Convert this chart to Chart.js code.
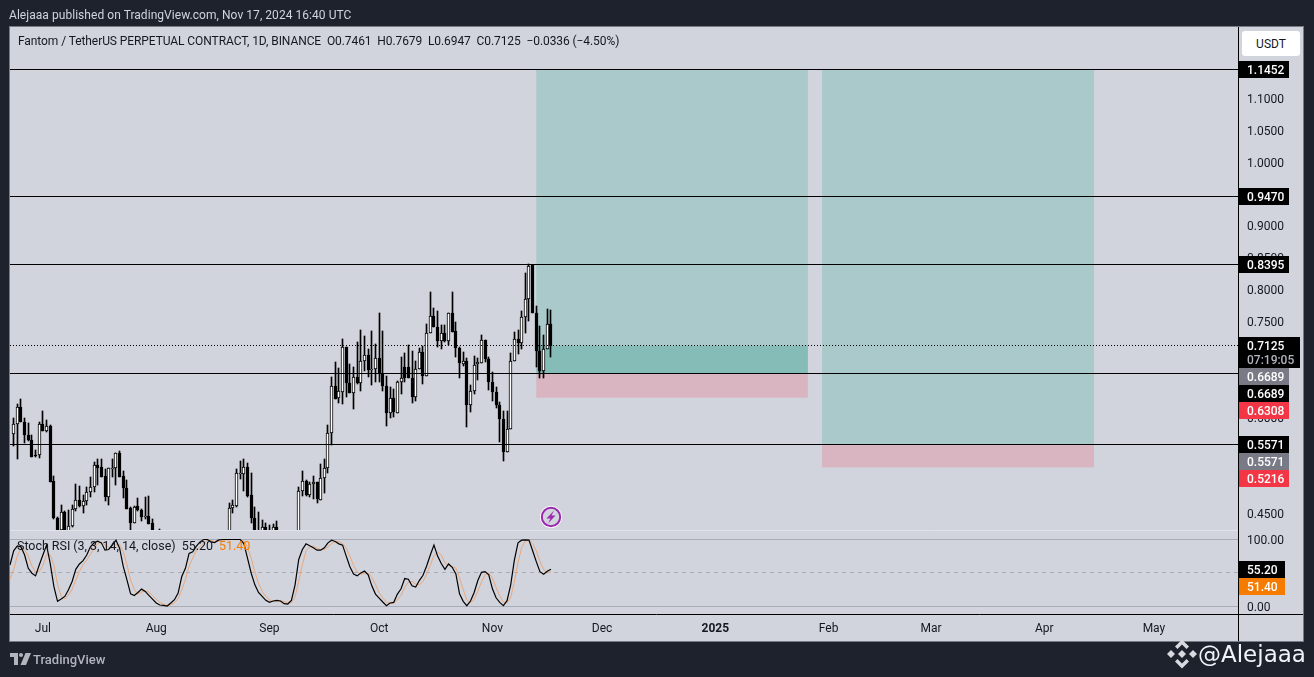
<!DOCTYPE html>
<html>
<head>
<meta charset="utf-8">
<title>FTMUSDT.P</title>
<script src="https://cdn.jsdelivr.net/npm/chart.js@4"></script>
<style>
  html, body { margin: 0; padding: 0; background: #1e222d; overflow: hidden; }
  body { width: 1314px; height: 677px; position: relative; font-family: Roboto, sans-serif; }
  #panel { position: absolute; left: 10px; top: 27px; width: 1293px; height: 614px; background: #d1d4dc; border: 1px solid #787b86; box-sizing: content-box; margin: -1px 0 0 -1px; }
  #myChart { position: absolute; left: 0; top: 0; }
  .txt { position: absolute; white-space: pre; font-size: 12px; line-height: 14px; color: #131722; }
  #published { left: 9px; top: 8px; color: #d1d4dc; letter-spacing: 0.05px; }
  #symbol { left: 18px; top: 34px; letter-spacing: -0.08px; }
  #stoch { left: 17px; top: 539px; font-size: 12.5px; letter-spacing: -0.03px; }
  #stochD { color: #f57c00; }
  #unit { left: 1242px; top: 31px; width: 58px; height: 25px; line-height: 27px; background: #fff; border-radius: 3px; text-align: center; }
  #brand { left: 33px; top: 652px; color: #b2b5be; font-size: 13px; line-height: 16px; font-weight: 500; }
  #handle { left: 1198px; top: 638px; color: #f0f3fa; font-family: "DejaVu Sans", sans-serif; font-size: 23px; line-height: 32px; }
  svg { position: absolute; }
</style>
</head>
<body>
<div id="panel"></div>
<canvas id="myChart" width="1314" height="677"></canvas>
<div class="txt" id="published">Alejaaa published on TradingView.com, Nov 17, 2024 16:40 UTC</div>
<div class="txt" id="symbol">Fantom / TetherUS PERPETUAL CONTRACT, 1D, BINANCE  O0.7461  H0.7679  L0.6947  C0.7125  −0.0336 (−4.50%)</div>
<div class="txt" id="stoch">Stoch RSI (3, 3, 14, 14, close)  55.20  <span id="stochD">51.40</span></div>
<div class="txt" id="unit">USDT</div>
<div class="txt" id="brand">TradingView</div>
<div class="txt" id="handle">@Alejaaa</div>

<svg style="left:10px;top:653px" width="21" height="12" viewBox="0 0 21 12">
  <path d="M0 0h8v12H4V4H0z M11 0a2 2 0 1 1 0 4a2 2 0 0 1 0-4z M15.5 0H21l-5 12h-5.5z" fill="#b2b5be"/>
</svg>
<svg style="left:1167px;top:639px" width="30" height="30" viewBox="0 0 30 30">
  <g fill="#d8dae0">
    <path d="M15 0.500L22 7.500 19.500 10 15 5.500 10.500 10 8 7.500z"/>
    <path d="M15 29.500L22 22.500 19.500 20 15 24.500 10.500 20 8 22.500z"/>
    <path d="M4 11L8 15 4 19 0 15z"/>
    <path d="M26 11L30 15 26 19 22 15z"/>
    <path d="M15 11L19 15 15 19 11 15z"/>
  </g>
</svg>
<svg style="left:540px;top:506px" width="22" height="22" viewBox="0 0 22 22">
  <circle cx="11" cy="11" r="11" fill="#fff"/>
  <circle cx="11" cy="11" r="9.200" fill="#d1d4dc" stroke="#9c27b0" stroke-width="2"/>
  <path d="M14 4.500L6.500 12.500h4L8 17.500 15.500 9.500h-4z" fill="#9c27b0"/>
</svg>

<script>
// Jun 22 2024 is index 0 of the time axis, May 24 2025 the last one
const days = [];
for (let i = 0; i <= 336; i++) days.push(new Date(Date.UTC(2024, 5, 22 + i)).toISOString().slice(0, 10));

const monthStarts = [9, 40, 71, 101, 132, 162, 193, 224, 252, 283, 313];
const monthNames = ['Jul', 'Aug', 'Sep', 'Oct', 'Nov', 'Dec', '2025', 'Feb', 'Mar', 'Apr', 'May'];
const priceTicks = [0.45, 0.5, 0.55, 0.6, 0.65, 0.7, 0.75, 0.8, 0.85, 0.9, 0.95, 1, 1.05, 1.1, 1.15];
const rsiTicks = [0, 50, 100];

// daily candles, null where the candle sits completely below the visible range
const opens = [null,
  .5734,.5896,.6167,.5927,.5723,.5645,.5415,.5410,.5896,.5791,.5870,.5008,.4427,.4239,.4522,.4190,.4292,.4558,.4704,.4605,
  .4684,.4830,.4903,.5258,.5227,.5086,.4746,.5196,.5206,.5446,.5086,.4893,.4584,.4339,.4610,.4548,.4443,.4454,.4344,null,
  .4150,null,null,null,null,null,null,null,null,null,null,null,null,null,null,null,null,null,null,.4050,
  .4579,.4616,.5122,.5107,.5227,.4783,.4427,.4180,.4140,.4281,.4229,.4190,.4286,null,null,null,null,null,.4100,.4840,
  .5002,.4783,.4950,.4992,.4710,.5044,.5201,.5749,.6491,.6303,.6403,.7108,.6544,.6376,.6638,.6538,.6878,.6983,.6753,.6758,
  .6930,.6680,.6491,.6063,.6309,.6073,.6549,.6789,.6789,.6617,.6314,.6753,.7030,.6648,.7317,.7589,.7421,.7191,.7322,.7191,
  .7635,.7353,.7092,.6841,.6883,.6188,.6413,.6831,.6857,.7212,.6914,.6549,.6397,.6198,.5974,.5451,.5817,.6878,.7228,.7170,
  .7573,.7855,.8388,.7635,.7040,.6726,.7071,.7461];
const highs = [null,
  .5985,.6209,.6288,.5990,.5911,.5729,.5493,.5927,.6105,.5958,.5885,.5086,.4443,.4631,.4537,.4548,.4631,.4955,.4924,.4788,
  .4913,.5070,.5295,.5347,.5347,.5196,.5206,.5347,.5441,.5478,.5164,.5023,.4600,.4616,.4741,.4563,.4757,.4772,.4407,null,
  .4255,null,null,null,null,null,null,null,null,null,null,null,null,null,null,null,null,null,null,.4657,
  .4705,.5196,.5321,.5347,.5290,.5128,.4589,.4522,.4391,.4349,.4307,.4328,.4381,null,null,null,null,null,.4903,.5164,
  .5023,.4981,.5086,.4992,.5269,.5347,.5885,.6627,.6873,.6768,.7228,.7108,.6841,.6794,.7176,.7374,.7275,.7077,.7348,.7150,
  .7641,.7348,.6648,.6470,.6444,.6575,.6951,.7003,.7139,.7045,.6888,.7087,.7124,.7463,.7970,.7709,.7672,.7447,.7447,.7635,
  .7959,.7499,.7102,.7029,.6935,.6507,.6967,.6935,.7296,.7212,.6951,.6705,.6481,.6235,.6104,.6104,.7008,.7343,.7374,.7672,
  .8262,.8403,.8388,.7750,.7437,.7296,.7698,.7679];
const lows = [null,
  .5546,.5342,.5922,.5593,.5635,.5373,.5384,.5358,.5781,.5765,.4981,.4412,.4200,.4200,.4150,.4150,.4276,.4527,.4600,.4495,
  .4631,.4746,.4835,.4945,.5060,.4684,.4631,.5070,.4945,.5060,.4731,.4558,.4224,.4339,.4537,.4381,.4407,.4323,.4120,null,
  .4050,null,null,null,null,null,null,null,null,null,null,null,null,null,null,null,null,null,null,.4000,
  .4495,.4589,.5039,.4846,.4746,.4339,.4100,.4100,.4100,.4120,.4200,.4150,.4100,null,null,null,null,null,.4050,.4772,
  .4762,.4751,.4720,.4663,.4710,.4819,.5122,.5572,.6282,.6220,.6209,.6324,.6376,.6136,.6523,.6408,.6732,.6627,.6512,.6549,
  .6549,.6418,.5859,.5985,.6000,.6073,.6366,.6549,.6617,.6230,.6261,.6753,.6518,.6648,.7317,.7411,.7108,.7071,.7186,.7134,
  .7332,.6951,.6611,.6810,.5854,.6089,.6371,.6590,.6857,.6862,.6434,.6256,.6141,.5608,.5310,.5451,.5817,.6878,.6987,.7071,
  .7322,.7515,.7635,.6784,.6611,.6611,.7071,.6947];
const closes = [null,
  .5896,.6167,.5922,.5718,.5640,.5384,.5389,.5896,.5791,.5864,.4992,.4417,.4239,.4516,.4190,.4297,.4563,.4704,.4610,.4684,
  .4830,.4903,.5258,.5211,.5070,.4746,.5206,.5206,.5441,.5070,.4887,.4569,.4339,.4600,.4542,.4433,.4454,.4333,.4180,null,
  .4100,null,null,null,null,null,null,null,null,null,null,null,null,null,null,null,null,null,null,.4584,
  .4626,.5128,.5128,.5222,.4772,.4417,.4180,.4150,.4281,.4170,.4239,.4281,.4170,null,null,null,null,null,.4846,.5002,
  .4788,.4955,.4987,.4715,.5049,.5206,.5755,.6491,.6293,.6413,.7108,.6533,.6376,.6632,.6533,.6883,.6977,.6737,.6763,.6930,
  .6680,.6486,.6063,.6303,.6079,.6559,.6617,.6617,.6617,.6314,.6758,.7019,.6653,.7322,.7589,.7411,.7192,.7322,.7191,.7635,
  .7343,.7087,.6846,.6883,.6188,.6413,.6820,.6862,.7212,.6909,.6549,.6392,.6188,.5969,.5451,.5817,.6878,.7228,.7170,.7573,
  .7855,.8377,.7635,.7034,.6726,.7066,.7463,.7125];

// stoch rsi, %K and %D
const stochK = [61.7,83,90.5,89,76.6,56.7,49.3,45.3,61.7,76.6,91.5,64.2,29.4,7,10.4,14.4,24.4,36.8,55.2,63.2,68.2,76.6,89,95,97.5,95,84,85,91.5,99,
  86.6,59.2,39.3,18.4,15.9,20.4,25.4,21.9,15.9,10.4,4.5,1.5,1,0,4.5,9.5,19.4,44.3,56.7,79.1,81.6,90,96.5,100,100,96.5,95.5,99,100,100,
  100,100,100,100,94,71.6,49.3,31.8,20.4,14.4,8.5,5.5,7.5,8.5,7.5,3.5,3,8.5,31.8,70,85,93.5,90.5,87.6,84,84,87.6,95,99,97,
  93.5,91.5,75,59,48,45.3,49.8,52.7,46.8,30.3,18,12,6,0.5,4.5,5.5,18,26,41.3,40.3,30.3,28.4,38.3,46.3,60.2,76.6,91.5,75.1,64,55.2,
  63.2,58.2,48.3,18.4,7,0.5,7.5,20.4,38.3,50.7,51.7,46.8,25.9,12.4,5.5,0.5,8,31.8,69,95,99,99.5,99,83,66.7,51.7,47.8,52.2,55.2];
const stochD = [40,55,75,87,85,75,60,51,52,61,77,77,62,33,15,11,16,25,39,52,62,69,78,87,94,96,92,88,87,92,
  92,82,62,39,25,18,21,23,21,16,10,5.5,2.5,1,2,5,11,24,40,60,72,84,89,95,98.5,98.5,97,97,98,99.5,
  100,100,100,100,98,88,72,51,34,22,14,9.5,7,7,8,6.5,5,5,14,37,62,83,89,90,87,85,85,89,94,97,
  97,94,87,75,61,51,48,49,50,43,32,20,12,6,4,4,9,16,28,36,37,33,32,37,48,61,76,81,77,65,
  61,59,57,42,25,9,5,10,22,36,47,50,42,28,15,6,5,13,36,65,88,98,99,94,83,67,55,50,51.4];
const rsiBands = [100, 50, 0];

// horizontal levels and the current close
const levels = [1.1452, 0.9470, 0.8395, 0.6689, 0.5571];
const lastClose = 0.7125;

// the two long position tools
const toolStarts = [144, 222.2];
const toolEnds = [218.3, 296.6];
const toolEntries = [0.6689, 0.5571];
const toolTargets = [1.1452, 1.1452];
const toolStops = [0.6308, 0.5216];
const toolReached = [0.7125, null];

// price tags on the right scale
const tagValues = [1.1452, 0.9470, 0.8395, 0.7125, 0.6689, 0.6689, 0.6308, 0.5571, 0.5571, 0.5216];
const tagColors = ['#000', '#000', '#000', '#000', '#787b86', '#000', '#f23645', '#000', '#787b86', '#f23645'];
const countdown = '07:19:05';
const rsiTagValues = [55.20, 51.40];
const rsiTagColors = ['#000', '#f57c00'];

const labelFont = 'Roboto, sans-serif';

const sideWidth = scale => { scale.width = 66; };
const crisp = v => Math.floor(v) + 0.5;

// candles on whole pixels, the way the original renders them
const snapPlugin = {
  id: 'snap',
  afterDatasetsUpdate(chart) {
    chart.getSortedVisibleDatasetMetas().filter(meta => meta.type === 'bar').forEach(meta => {
      meta.data.forEach(el => {
        el.x = Math.floor(el.x) + 0.5;
        el.y = Math.round(el.y);
        el.base = Math.round(el.base);
        if (el.base === el.y) el.base = el.y + 1;
      });
    });
  }
};

const toolsPlugin = {
  id: 'tools',
  beforeDatasetsDraw(chart) {
    const { ctx, scales: { x, y, rsi }, chartArea } = chart;
    toolStarts.forEach((start, i) => {
      const left = x.getPixelForValue(start);
      const width = x.getPixelForValue(toolEnds[i]) - left;
      const entry = y.getPixelForValue(toolEntries[i]);
      ctx.fillStyle = '#a9c9cb';
      ctx.fillRect(left, y.getPixelForValue(toolTargets[i]), width, entry - y.getPixelForValue(toolTargets[i]));
      ctx.fillStyle = '#d9b5c1';
      ctx.fillRect(left, entry, width, y.getPixelForValue(toolStops[i]) - entry);
      if (toolReached[i] !== null) {
        ctx.fillStyle = '#86bcb8';
        ctx.fillRect(left, y.getPixelForValue(toolReached[i]), width, entry - y.getPixelForValue(toolReached[i]));
      }
    });
    ctx.save();
    ctx.lineWidth = 1;
    ctx.strokeStyle = '#a9acb6';
    rsiBands.forEach(band => {
      ctx.setLineDash(band === 50 ? [4, 4] : []);
      ctx.beginPath();
      ctx.moveTo(chartArea.left, crisp(rsi.getPixelForValue(band)));
      ctx.lineTo(chartArea.right, crisp(rsi.getPixelForValue(band)));
      ctx.stroke();
    });
    ctx.restore();
  }
};

const levelsPlugin = {
  id: 'levels',
  afterDatasetsDraw(chart) {
    const { ctx, chartArea, scales: { y } } = chart;
    ctx.save();
    ctx.lineWidth = 1;
    ctx.strokeStyle = '#000';
    levels.forEach(level => {
      ctx.beginPath();
      ctx.moveTo(chartArea.left, crisp(y.getPixelForValue(level)));
      ctx.lineTo(chartArea.right, crisp(y.getPixelForValue(level)));
      ctx.stroke();
    });
    ctx.setLineDash([1, 2]);
    ctx.beginPath();
    ctx.moveTo(chartArea.left, crisp(y.getPixelForValue(lastClose)));
    ctx.lineTo(chartArea.right, crisp(y.getPixelForValue(lastClose)));
    ctx.stroke();
    ctx.restore();
  }
};

const drawTags = (ctx, scale, values, colors, width) => {
  let bottom = -Infinity;
  values.forEach((value, i) => {
    const second = value === lastClose;
    const h = second ? 31 : 17;
    const top = Math.max(Math.round(scale.getPixelForValue(value) - 8.5), bottom);
    ctx.fillStyle = colors[i];
    ctx.fillRect(1239, top, second ? 61 : width, h);
    ctx.fillStyle = '#fff';
    ctx.font = '500 12px ' + labelFont;
    ctx.textBaseline = 'middle';
    ctx.textAlign = 'left';
    ctx.fillText(value.toFixed(scale.id === 'rsi' ? 2 : 4), 1247, top + 10);
    if (second) {
      ctx.fillStyle = '#b2b5be';
      ctx.fillText(countdown, 1247, top + 24);
    }
    bottom = top + h;
  });
};

const framePlugin = {
  id: 'frame',
  afterDraw(chart) {
    const { ctx, chartArea, scales: { y, rsi } } = chart;
    const axisX = Math.round(chartArea.right) + 0.5;
    const axisY = Math.round(chartArea.bottom) + 0.5;
    ctx.save();
    ctx.strokeStyle = '#e0e3eb';
    ctx.lineWidth = 1;
    ctx.beginPath();
    ctx.moveTo(chartArea.left, Math.round(y.bottom) + 0.5);
    ctx.lineTo(axisX, Math.round(y.bottom) + 0.5);
    ctx.stroke();
    ctx.strokeStyle = '#000';
    ctx.beginPath();
    ctx.moveTo(chartArea.left, axisY);
    ctx.lineTo(1303, axisY);
    ctx.moveTo(axisX, chartArea.top);
    ctx.lineTo(axisX, 641);
    ctx.stroke();
    drawTags(ctx, y, tagValues, tagColors, 50);
    drawTags(ctx, rsi, rsiTagValues, rsiTagColors, 46);
    ctx.restore();
  }
};

const ctx = document.getElementById('myChart').getContext('2d');
new Chart(ctx, {
  data: {
    labels: days,
    datasets: [
      {
        type: 'bar',
        yAxisID: 'y',
        data: opens.map((open, i) => open === null ? null : [open, closes[i]]),
        backgroundColor: opens.map((open, i) => closes[i] >= open ? '#fff' : '#000'),
        borderColor: '#000',
        borderWidth: 1,
        borderSkipped: false,
        barThickness: 3,
        grouped: false,
        clip: 0,
        order: 1
      },
      {
        type: 'bar',
        yAxisID: 'y',
        data: lows.map((low, i) => low === null ? null : [low, highs[i]]),
        backgroundColor: '#000',
        barThickness: 1,
        grouped: false,
        clip: 0,
        order: 2
      },
      {
        type: 'line',
        yAxisID: 'rsi',
        data: stochK,
        borderColor: '#000',
        borderWidth: 1.2,
        pointRadius: 0,
        tension: 0,
        order: 0
      },
      {
        type: 'line',
        yAxisID: 'rsi',
        data: stochD,
        borderColor: '#eba778',
        borderWidth: 1,
        pointRadius: 0,
        tension: 0,
        order: 1
      }
    ]
  },
  options: {
    responsive: false,
    animation: false,
    devicePixelRatio: 1,
    layout: { padding: { left: 10, top: 27, right: 10, bottom: 36 } },
    plugins: { legend: { display: false }, title: { display: false }, tooltip: { enabled: false } },
    scales: {
      x: {
        type: 'category',
        offset: false,
        grid: { display: false, drawTicks: false },
        border: { display: false },
        afterBuildTicks: scale => { scale.ticks = monthStarts.map(value => ({ value })); },
        afterFit: scale => { scale.height = 27; },
        ticks: {
          autoSkip: false,
          maxRotation: 0,
          minRotation: 0,
          padding: 8,
          color: '#131722',
          font: c => ({ family: labelFont, size: 12, weight: c.index === monthNames.indexOf('2025') ? 'bold' : 'normal' }),
          callback: (value, index) => monthNames[index]
        }
      },
      y: {
        position: 'right',
        stack: 'panes',
        stackWeight: 503,
        min: 0.4235,
        max: 1.2119,
        grid: { display: false, drawTicks: false },
        border: { display: false },
        afterBuildTicks: scale => { scale.ticks = priceTicks.map(value => ({ value })); },
        afterFit: sideWidth,
        ticks: {
          padding: 9,
          labelOffset: 1.5,
          color: '#131722',
          font: { family: labelFont, size: 12 },
          callback: value => value.toFixed(4)
        }
      },
      rsi: {
        position: 'right',
        stack: 'panes',
        stackWeight: 84,
        min: -12,
        max: 114.3,
        grid: { display: false, drawTicks: false },
        border: { display: false },
        afterBuildTicks: scale => { scale.ticks = rsiTicks.map(value => ({ value })); },
        afterFit: sideWidth,
        ticks: {
          padding: 9,
          labelOffset: 1.5,
          color: '#131722',
          font: { family: labelFont, size: 12 },
          callback: value => value.toFixed(2)
        }
      }
    }
  },
  plugins: [snapPlugin, toolsPlugin, levelsPlugin, framePlugin]
});
</script>
</body>
</html>
